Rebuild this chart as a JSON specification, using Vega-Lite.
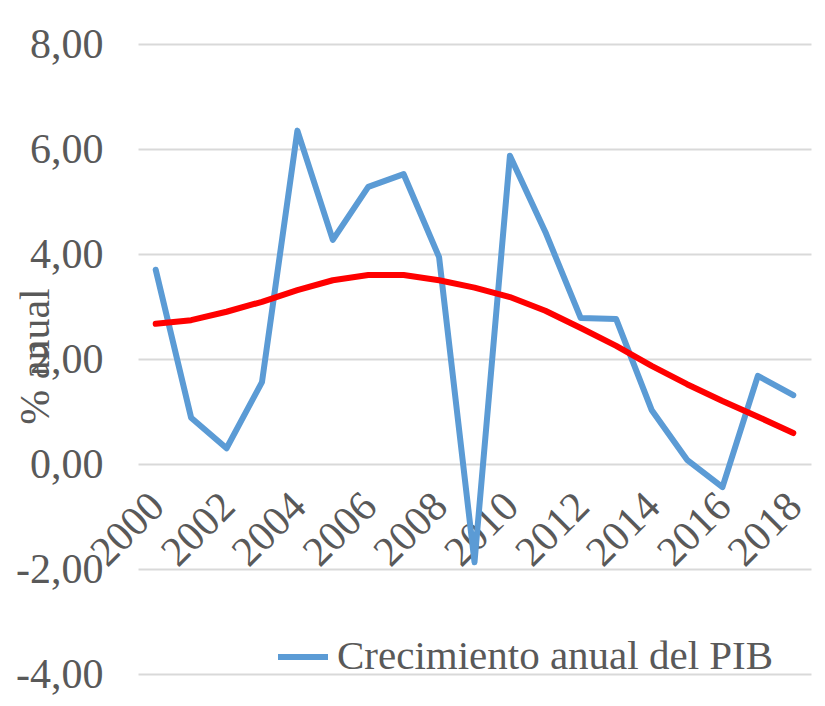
{
  "$schema": "https://vega.github.io/schema/vega-lite/v6.json",
  "width": 673,
  "height": 630,
  "autosize": {"type": "none"},
  "padding": {"left": 138, "top": 44, "right": 14, "bottom": 32},
  "background": "white",
  "config": {
    "view": {"stroke": null},
    "font": "Liberation Serif"
  },
  "data": {
    "values": [
      {"year": 2000, "pib": 3.70, "trend": 2.67},
      {"year": 2001, "pib": 0.88, "trend": 2.74},
      {"year": 2002, "pib": 0.30, "trend": 2.90},
      {"year": 2003, "pib": 1.56, "trend": 3.09},
      {"year": 2004, "pib": 6.35, "trend": 3.31},
      {"year": 2005, "pib": 4.27, "trend": 3.50},
      {"year": 2006, "pib": 5.28, "trend": 3.60},
      {"year": 2007, "pib": 5.52, "trend": 3.60},
      {"year": 2008, "pib": 3.94, "trend": 3.50},
      {"year": 2009, "pib": -1.87, "trend": 3.36},
      {"year": 2010, "pib": 5.87, "trend": 3.18},
      {"year": 2011, "pib": 4.42, "trend": 2.92},
      {"year": 2012, "pib": 2.78, "trend": 2.59},
      {"year": 2013, "pib": 2.76, "trend": 2.25},
      {"year": 2014, "pib": 1.03, "trend": 1.87},
      {"year": 2015, "pib": 0.08, "trend": 1.52},
      {"year": 2016, "pib": -0.44, "trend": 1.20},
      {"year": 2017, "pib": 1.68, "trend": 0.90},
      {"year": 2018, "pib": 1.31, "trend": 0.59}
    ]
  },
  "encoding": {
    "x": {
      "field": "year",
      "type": "ordinal",
      "scale": {"type": "point", "padding": 0.5},
      "axis": {
        "title": null,
        "values": [2000, 2002, 2004, 2006, 2008, 2010, 2012, 2014, 2016, 2018],
        "offset": -210,
        "domain": false,
        "ticks": false,
        "grid": false,
        "labelAngle": -45,
        "labelAlign": "right",
        "labelBaseline": "top",
        "labelPadding": 21,
        "labelOffset": -13,
        "labelFont": "Liberation Serif",
        "labelFontSize": 42,
        "labelColor": "#595959",
        "labelOverlap": false
      }
    }
  },
  "layer": [
    {
      "mark": {"type": "line", "strokeWidth": 6, "strokeCap": "round", "strokeJoin": "round"},
      "encoding": {
        "y": {
          "field": "pib",
          "type": "quantitative",
          "scale": {"domain": [-4, 8], "nice": false, "zero": false},
          "axis": {
            "values": [-4, -2, 0, 2, 4, 6, 8],
            "labelExpr": "(datum.value < 0 ? '-' : '') + replace(format(abs(datum.value), '.2f'), '.', ',')",
            "domain": false,
            "ticks": false,
            "grid": true,
            "gridColor": "#D9D9D9",
            "gridWidth": 2,
            "labelPadding": 35,
            "labelFont": "Liberation Serif",
            "labelFontSize": 42,
            "labelColor": "#595959",
            "title": "% anual",
            "titleFont": "Liberation Serif",
            "titleFontSize": 42,
            "titleFontWeight": "normal",
            "titleColor": "#595959",
            "titleAngle": -90,
            "titleX": -103,
            "titleY": 312,
            "titleAlign": "center",
            "titleBaseline": "middle"
          }
        },
        "color": {
          "datum": "Crecimiento anual del PIB",
          "type": "nominal",
          "scale": {"range": ["#5B9BD5"]},
          "legend": {
            "title": null,
            "orient": "none",
            "legendX": 137,
            "legendY": 585,
            "symbolType": "stroke",
            "symbolSize": 2500,
            "symbolStrokeWidth": 6,
            "labelFont": "Liberation Serif",
            "labelFontSize": 41,
            "labelColor": "#595959",
            "labelOffset": 6,
            "labelLimit": 0,
            "padding": 0
          }
        }
      }
    },
    {
      "mark": {"type": "line", "strokeWidth": 6, "color": "#FF0000", "strokeCap": "round", "strokeJoin": "round"},
      "encoding": {
        "y": {"field": "trend", "type": "quantitative"}
      }
    }
  ]
}
